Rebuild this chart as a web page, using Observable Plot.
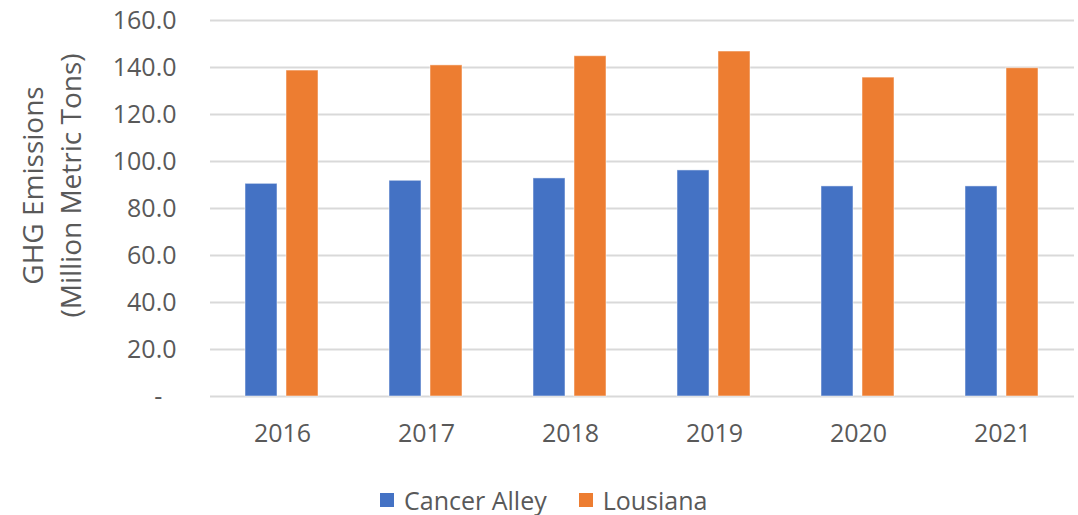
<!DOCTYPE html>
<html>
<head>
<meta charset="utf-8">
<script src="https://cdn.jsdelivr.net/npm/d3@7"></script>
<script src="https://cdn.jsdelivr.net/npm/@observablehq/plot@0.6"></script>
<style>
  html, body { margin: 0; padding: 0; background: #fff; }
  body { width: 1078px; height: 515px; position: relative; overflow: hidden; font-family: "Open Sans", sans-serif; }
  #legend { position: absolute; left: 380px; top: 486px; height: 28px; line-height: 28px; display: flex; align-items: center; font-size: 25px; color: #595959; white-space: nowrap; }
  .item { display: flex; align-items: center; margin-right: 32px; }
  .sw { width: 14px; height: 14px; margin-right: 10px; }
</style>
</head>
<body>
<div id="chart"></div>
<div id="legend"></div>
<script>
const years = [2016, 2017, 2018, 2019, 2020, 2021];
const series = ["Cancer Alley", "Lousiana"];
const cancerAlley = [90.5, 91.8, 92.8, 96.2, 89.4, 89.4];
const louisiana = [138.7, 140.9, 144.8, 146.8, 135.7, 139.7];
const colors = ["#4472C4", "#ED7D31"];
const yTicks = [0, 20, 40, 60, 80, 100, 120, 140, 160];
const yLabel = "GHG Emissions\n(Million Metric Tons)";

const data = [];
years.forEach((yr, i) => {
  data.push({year: yr, series: series[0], value: cancerAlley[i]});
  data.push({year: yr, series: series[1], value: louisiana[i]});
});

const chart = Plot.plot({
  width: 1078,
  height: 470,
  marginLeft: 210,
  marginRight: 4,
  marginTop: 20,
  marginBottom: 74,
  style: {fontFamily: "Open Sans, sans-serif", fontSize: "25px", color: "#595959", background: "#fff", overflow: "visible"},
  fx: {domain: years, padding: 0, label: null, tickSize: 0, tickPadding: 28, axis: "bottom", tickFormat: d => String(d)},
  x: {domain: series, paddingInner: 0.216, paddingOuter: 0.835, axis: null},
  y: {domain: [0, 160], ticks: yTicks, tickSize: 0, tickPadding: 34, label: null,
      tickFormat: d => d === 0 ? "-\u2007" : d.toFixed(1)},
  color: {domain: series, range: colors},
  marks: [
    Plot.gridY(yTicks, {stroke: "#d9d9d9", strokeOpacity: 1, strokeWidth: 2}),
    Plot.barY(data, {fx: "year", x: "series", y: "value", fill: "series", stroke: "#ffffff", strokeOpacity: 0.5, strokeWidth: 1}),
    Plot.text([{year: years[0]}], {fx: "year", frameAnchor: "left", text: () => yLabel, rotate: -90,
      textAnchor: "middle", lineAnchor: "middle",
      dx: -161, dy: -23, fontSize: 28, lineHeight: 1.36, fill: "#595959"})
  ]
});
document.getElementById("chart").appendChild(chart);

const legend = document.getElementById("legend");
series.forEach((s, i) => {
  const it = document.createElement("div");
  it.className = "item";
  const sw = document.createElement("div");
  sw.className = "sw";
  sw.style.background = colors[i];
  const t = document.createElement("span");
  t.textContent = s;
  it.appendChild(sw);
  it.appendChild(t);
  legend.appendChild(it);
});
</script>
</body>
</html>
